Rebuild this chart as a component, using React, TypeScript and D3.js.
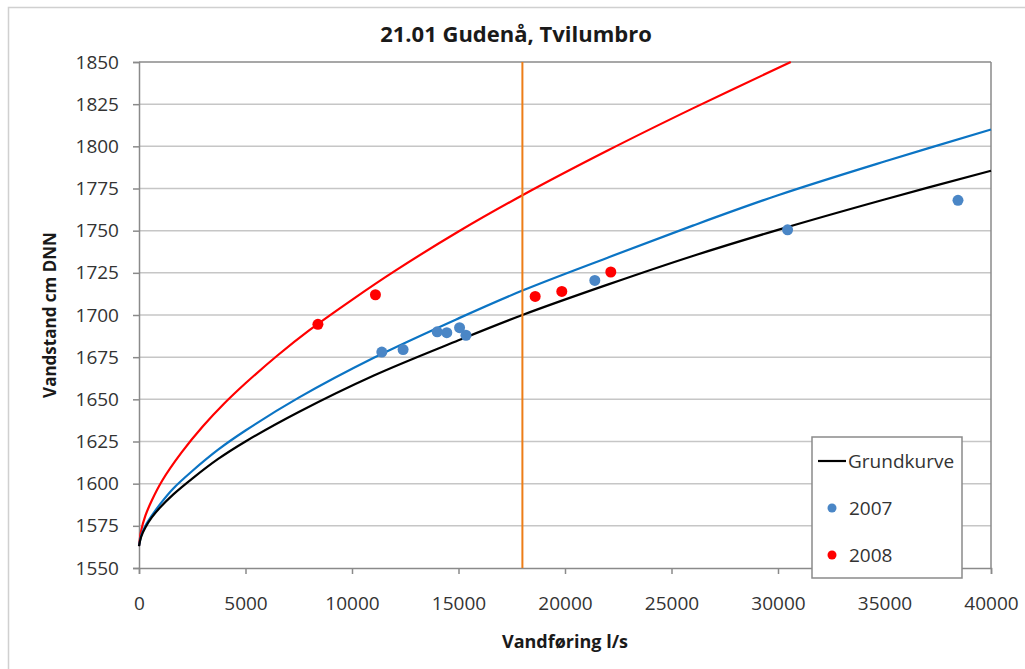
import { useEffect, useRef } from 'react';
import * as d3 from 'd3';

// discharge (l/s) / water level (cm DNN) readings
const grundQ = [0, 100, 300, 600, 1000, 1600, 2500, 3700, 5000, 7500, 11000, 15000, 18000, 22000, 26000, 30000, 35000, 40000];
const grundH = [1563, 1568.5, 1574, 1580, 1586, 1593.5, 1603, 1614.5, 1625, 1642.5, 1664, 1685, 1700, 1718, 1735, 1750.5, 1768.5, 1785.5];

const blueQ = [0, 100, 300, 600, 1000, 1600, 2500, 3700, 5000, 7500, 11000, 15000, 18000, 22000, 26000, 30000, 35000, 40000];
const blueH = [1563, 1569, 1575, 1581, 1588, 1597, 1607.5, 1620, 1631.5, 1651, 1674.5, 1698, 1714.5, 1734, 1753, 1771, 1791, 1810];

const redQ = [0, 100, 300, 600, 1100, 2000, 3000, 4000, 5000, 6500, 8000, 10000, 12000, 15000, 18000, 22000, 26000, 30600];
const redH = [1563, 1572, 1581, 1590, 1602, 1618.5, 1634, 1647.5, 1659.5, 1676, 1691, 1709, 1726, 1749.5, 1771, 1797.5, 1822.5, 1850];

const pts2007Q = [11400, 12400, 14000, 14450, 15050, 15350, 21400, 30450, 38450];
const pts2007H = [1678, 1679.5, 1690, 1689.5, 1692.5, 1688, 1720.5, 1750.5, 1768];

const pts2008Q = [8400, 11100, 18600, 19850, 22150];
const pts2008H = [1694.5, 1712, 1711, 1714, 1725.5];

const refQ = 18000;

const xTicks = [0, 5000, 10000, 15000, 20000, 25000, 30000, 35000, 40000];
const yTicks = [1550, 1575, 1600, 1625, 1650, 1675, 1700, 1725, 1750, 1775, 1800, 1825, 1850];

const legendItems = ['Grundkurve', '2007', '2008'];

const FONT = '"Open Sans", sans-serif';

export default function App() {
  const svgRef = useRef<SVGSVGElement>(null);

  useEffect(() => {
    if (!svgRef.current) return;
    const svg = d3.select(svgRef.current);
    svg.selectAll('*').remove();

    const left = 139;
    const right = 991;
    const top = 62;
    const bottom = 568;

    const x = d3.scaleLinear().domain([0, 40000]).range([left, right]);
    const y = d3.scaleLinear().domain([1550, 1850]).range([bottom, top]);

    // outer frame
    svg.append('rect')
      .attr('x', 8.5).attr('y', 7.5)
      .attr('width', 1030).attr('height', 700)
      .attr('fill', 'white')
      .attr('stroke', '#d0d0d0').attr('stroke-width', 1.5);

    // title
    svg.append('text')
      .attr('x', 516).attr('y', 42)
      .attr('text-anchor', 'middle')
      .attr('font-family', FONT).attr('font-weight', 'bold').attr('font-size', 22)
      .attr('fill', '#1a1a1a')
      .text('21.01 Gudenå, Tvilumbro');

    // gridlines
    svg.append('g')
      .selectAll('line')
      .data(yTicks.slice(1))
      .join('line')
      .attr('x1', left).attr('x2', right)
      .attr('y1', (d) => y(d)).attr('y2', (d) => y(d))
      .attr('stroke', (d) => (d === 1850 ? '#8a8a8a' : '#c6c6c6'))
      .attr('stroke-width', 1.5);

    // plot border right
    svg.append('line')
      .attr('x1', right).attr('x2', right).attr('y1', top).attr('y2', bottom)
      .attr('stroke', '#8a8a8a').attr('stroke-width', 1.5);

    // y axis
    const yAxis = svg.append('g')
      .attr('transform', `translate(${left},0)`)
      .call(d3.axisLeft(y).tickValues(yTicks).tickSize(6).tickPadding(14).tickFormat(d3.format('d')));
    yAxis.select('.domain').attr('stroke', '#8a8a8a').attr('stroke-width', 1.5);
    yAxis.selectAll('.tick line').attr('stroke', '#8a8a8a').attr('stroke-width', 1.5);
    yAxis.selectAll('.tick text')
      .attr('font-family', FONT).attr('font-size', 19).attr('fill', '#333');

    // x axis
    const xAxis = svg.append('g')
      .attr('transform', `translate(0,${bottom})`)
      .call(d3.axisBottom(x).tickValues(xTicks).tickSize(6).tickPadding(23).tickFormat(d3.format('d')));
    xAxis.select('.domain').attr('stroke', '#8a8a8a').attr('stroke-width', 1.5);
    xAxis.selectAll('.tick line').attr('stroke', '#8a8a8a').attr('stroke-width', 1.5);
    xAxis.selectAll('.tick text')
      .attr('font-family', FONT).attr('font-size', 19).attr('fill', '#333');

    // axis titles
    svg.append('text')
      .attr('x', (left + right) / 2).attr('y', 648)
      .attr('text-anchor', 'middle')
      .attr('font-family', FONT).attr('font-weight', 'bold').attr('font-size', 18)
      .attr('fill', '#1a1a1a')
      .text('Vandføring l/s');

    svg.append('text')
      .attr('transform', `translate(56,${(top + bottom) / 2}) rotate(-90)`)
      .attr('text-anchor', 'middle')
      .attr('font-family', FONT).attr('font-weight', 'bold').attr('font-size', 17)
      .attr('fill', '#1a1a1a')
      .text('Vandstand cm DNN');

    const line = d3.line<[number, number]>()
      .x((d) => x(d[0]))
      .y((d) => y(d[1]))
      .curve(d3.curveCatmullRom.alpha(0.5));

    const plot = svg.append('g');

    const curves: { q: number[]; h: number[]; color: string }[] = [
      { q: redQ, h: redH, color: '#ff0000' },
      { q: blueQ, h: blueH, color: '#0b74c4' },
      { q: grundQ, h: grundH, color: '#000000' },
    ];
    curves.forEach((c) => {
      plot.append('path')
        .datum(c.q.map((q, i) => [q, c.h[i]] as [number, number]))
        .attr('fill', 'none')
        .attr('stroke', c.color)
        .attr('stroke-width', 2.2)
        .attr('d', line);
    });

    // reference discharge line
    plot.append('line')
      .attr('x1', x(refQ)).attr('x2', x(refQ))
      .attr('y1', y(1850)).attr('y2', y(1550))
      .attr('stroke', '#ed7d17').attr('stroke-width', 2);

    plot.selectAll('.p2007')
      .data(pts2007Q.map((q, i) => [q, pts2007H[i]]))
      .join('circle')
      .attr('cx', (d) => x(d[0])).attr('cy', (d) => y(d[1]))
      .attr('r', 5.5).attr('fill', '#4a86c6');

    plot.selectAll('.p2008')
      .data(pts2008Q.map((q, i) => [q, pts2008H[i]]))
      .join('circle')
      .attr('cx', (d) => x(d[0])).attr('cy', (d) => y(d[1]))
      .attr('r', 5.5).attr('fill', '#ff0000');

    // legend
    const lg = svg.append('g').attr('transform', 'translate(812,437)');
    lg.append('rect')
      .attr('width', 150).attr('height', 141)
      .attr('fill', 'white').attr('stroke', '#8a8a8a').attr('stroke-width', 1.5);
    legendItems.forEach((name, i) => {
      const cy = 24 + i * 47;
      if (i === 0) {
        lg.append('line').attr('x1', 6).attr('x2', 34).attr('y1', cy).attr('y2', cy)
          .attr('stroke', '#000').attr('stroke-width', 2.2);
      } else {
        lg.append('circle').attr('cx', 20).attr('cy', cy).attr('r', 4.5)
          .attr('fill', i === 1 ? '#4a86c6' : '#ff0000');
      }
      lg.append('text')
        .attr('x', i === 0 ? 36 : 37).attr('y', cy)
        .attr('dy', '0.35em')
        .attr('font-family', FONT).attr('font-size', 19).attr('fill', '#333')
        .text(name);
    });
  }, []);

  return (
    <svg
      ref={svgRef}
      width={1025}
      height={669}
      style={{ position: 'absolute', left: 0, top: 0, background: 'white' }}
    />
  );
}
